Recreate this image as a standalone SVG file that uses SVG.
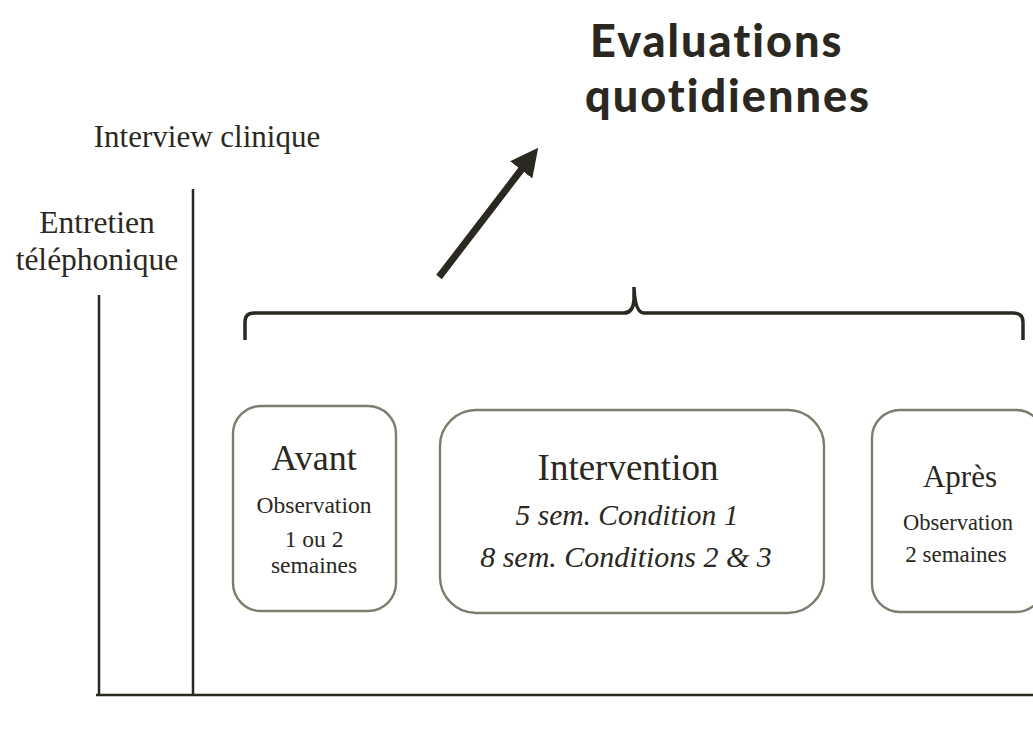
<svg xmlns="http://www.w3.org/2000/svg" width="1033" height="738" viewBox="0 0 1033 738">
<style>
.serif{font-family:"Liberation Serif","Times New Roman",serif;fill:#2b2821}
.box{fill:#fff;stroke:#7d7c6e;stroke-width:2.4}
.ln{stroke:#2b2821;stroke-width:2.5;fill:none}
.title{font-family:"Lato","DejaVu Sans",sans-serif;font-weight:900;font-size:45px;fill:#2b2821;letter-spacing:2px}
</style>
<defs>
<marker id="ah" markerWidth="4" markerHeight="4" refX="1.6" refY="2" orient="auto" markerUnits="strokeWidth">
<path d="M0,0 L4,2 L0,4 z" fill="#2b2821"/>
</marker>
</defs>
<rect width="1033" height="738" fill="#fff"/>
<g id="title">
<text class="title" x="590" y="57">Evaluations</text>
<text class="title" x="585" y="112">quotidiennes</text>
</g>
<g id="interview">
<text class="serif" x="207" y="147" font-size="31" text-anchor="middle">Interview clinique</text>
</g>
<g id="entretien">
<text class="serif" x="97" y="233" font-size="31.5" text-anchor="middle">Entretien</text>
<text class="serif" x="97" y="270" font-size="31.5" text-anchor="middle">téléphonique</text>
</g>
<g id="connectors">
<line class="ln" x1="99" y1="295" x2="99" y2="695"/>
<line class="ln" x1="193" y1="189" x2="193" y2="695"/>
<line class="ln" x1="96" y1="695" x2="1033" y2="695"/>
<line x1="439" y1="277" x2="528" y2="161" stroke="#2b2821" stroke-width="7" marker-end="url(#ah)"/>
<path d="M245,340 L245,322 Q245,313 254,313 L624,313 Q633,313 634,300 L634,287 Q635,313 644,313 L1013,313 Q1023,313 1023,322 L1023,340" stroke="#2b2821" stroke-width="3.5" fill="none"/>
</g>
<g id="avant">
<rect class="box" x="233" y="406" width="163" height="205" rx="28"/>
<text class="serif" x="314" y="470" font-size="36" text-anchor="middle">Avant</text>
<text class="serif" x="314" y="513" font-size="23.5" text-anchor="middle">Observation</text>
<text class="serif" x="314" y="547" font-size="23.5" text-anchor="middle">1 ou 2</text>
<text class="serif" x="314" y="573" font-size="23.5" text-anchor="middle">semaines</text>
</g>
<g id="intervention">
<rect class="box" x="440" y="410" width="384" height="203" rx="36"/>
<text class="serif" x="628" y="480" font-size="37" text-anchor="middle">Intervention</text>
<text class="serif" x="627" y="525" font-size="29.5" font-style="italic" text-anchor="middle">5 sem. Condition 1</text>
<text class="serif" x="626" y="567" font-size="30" font-style="italic" text-anchor="middle">8 sem. Conditions 2 &amp; 3</text>
</g>
<g id="apres">
<rect class="box" x="872" y="410" width="172" height="202" rx="28"/>
<text class="serif" x="960" y="487" font-size="31" text-anchor="middle">Après</text>
<text class="serif" x="958" y="530" font-size="22.5" text-anchor="middle">Observation</text>
<text class="serif" x="956" y="562" font-size="23" text-anchor="middle">2 semaines</text>
</g>
</svg>
